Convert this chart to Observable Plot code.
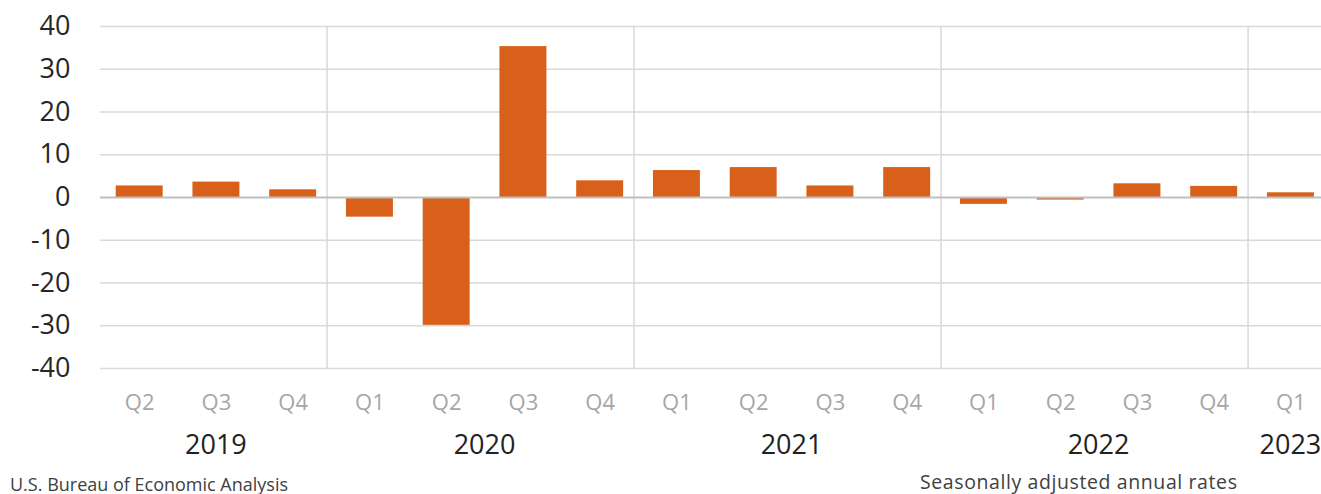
<!DOCTYPE html>
<html>
<head>
<meta charset="utf-8">
<script src="https://cdn.jsdelivr.net/npm/d3@7"></script>
<script src="https://cdn.jsdelivr.net/npm/@observablehq/plot@0.6"></script>
<style>
  html, body { margin: 0; padding: 0; background: #fff; }
  #chart svg { display: block; }
  #caption { position: relative; width: 1321px; height: 24px;
    font-family: 'Open Sans', sans-serif; color: #404040; }
  #caption span { position: absolute; white-space: nowrap; }
</style>
</head>
<body>
<div id="chart"></div>
<div id="caption">
  <span id="src" style="left:10px; top:5px; font-size:18px; line-height:18px;">U.S. Bureau of Economic Analysis</span>
  <span id="note" style="left:920px; top:1.7px; font-size:19.5px; line-height:19.5px; letter-spacing:0.6px;">Seasonally adjusted annual rates</span>
</div>
<script>
const quarters = ["Q2","Q3","Q4","Q1","Q2","Q3","Q4","Q1","Q2","Q3","Q4","Q1","Q2","Q3","Q4","Q1"];
const years    = ["2019","2019","2019","2020","2020","2020","2020","2021","2021","2021","2021","2022","2022","2022","2022","2023"];
const growth   = [2.7, 3.6, 1.8, -4.6, -29.9, 35.3, 3.9, 6.3, 7.0, 2.7, 7.0, -1.6, -0.6, 3.2, 2.6, 1.1];
const yTicks   = [40, 30, 20, 10, 0, -10, -20, -30, -40];
const yearList = ["2019", "2020", "2021", "2022", "2023"];

const data = quarters.map((q, i) => ({key: years[i] + " " + q, year: years[i], quarter: q, value: growth[i]}));
const keys = data.map(d => d.key);

function yearMarks(index, scales, values, dims) {
  const x = scales.x, y = scales.y;
  const step = x(keys[1]) - x(keys[0]);
  const bw = typeof x.bandwidth === "function" ? x.bandwidth() : step * 0.612;
  const g = d3.create("svg:g");
  const yTop = y(d3.max(yTicks)), yBot = y(d3.min(yTicks));
  yearList.forEach((yr, j) => {
    const ks = data.filter(d => d.year === yr).map(d => d.key);
    const first = ks[0], last = ks[ks.length - 1];
    if (j > 0) {
      const bx = x(first) - (step - bw) / 2 - 4;
      g.append("line").attr("x1", bx).attr("x2", bx).attr("y1", yTop).attr("y2", yBot)
        .attr("stroke", "#d9d9d9").attr("stroke-width", 1.5);
    }
    const cx = (x(first) + x(last)) / 2 + bw / 2;
    g.append("text").attr("x", cx).attr("y", dims.height - dims.marginBottom + 86)
      .attr("text-anchor", "middle").attr("fill", "#222").attr("font-size", 27)
      .text(yr);
  });
  return g.node();
}

const chart = Plot.plot({
  width: 1321,
  height: 470,
  marginLeft: 100,
  marginRight: 0,
  marginTop: 26,
  marginBottom: 102,
  style: {fontFamily: "'Open Sans', sans-serif", background: "white"},
  x: {type: "band", domain: keys, range: [100.8, 1328.8], paddingInner: 0.388, paddingOuter: 0.194, round: false, axis: null},
  y: {domain: [-40, 40], axis: null},
  marks: [
    Plot.ruleY(yTicks.filter(d => d !== 0), {stroke: "#d9d9d9", strokeWidth: 1.5}),
    yearMarks,
    Plot.barY(data, {x: "key", y: "value", fill: "#d8601b"}),
    Plot.ruleY([0], {stroke: "#bfbfbf", strokeWidth: 2}),
    Plot.axisY({ticks: yTicks, tickSize: 0, tickPadding: 30, fontSize: 27, fill: "#262626", label: null, tickFormat: d => String(d)}),
    Plot.axisX({tickSize: 0, tickPadding: 26, fontSize: 22, fill: "#a6a6a6", label: null, tickFormat: d => d.split(" ")[1]})
  ]
});
document.getElementById("chart").append(chart);
</script>
</body>
</html>
